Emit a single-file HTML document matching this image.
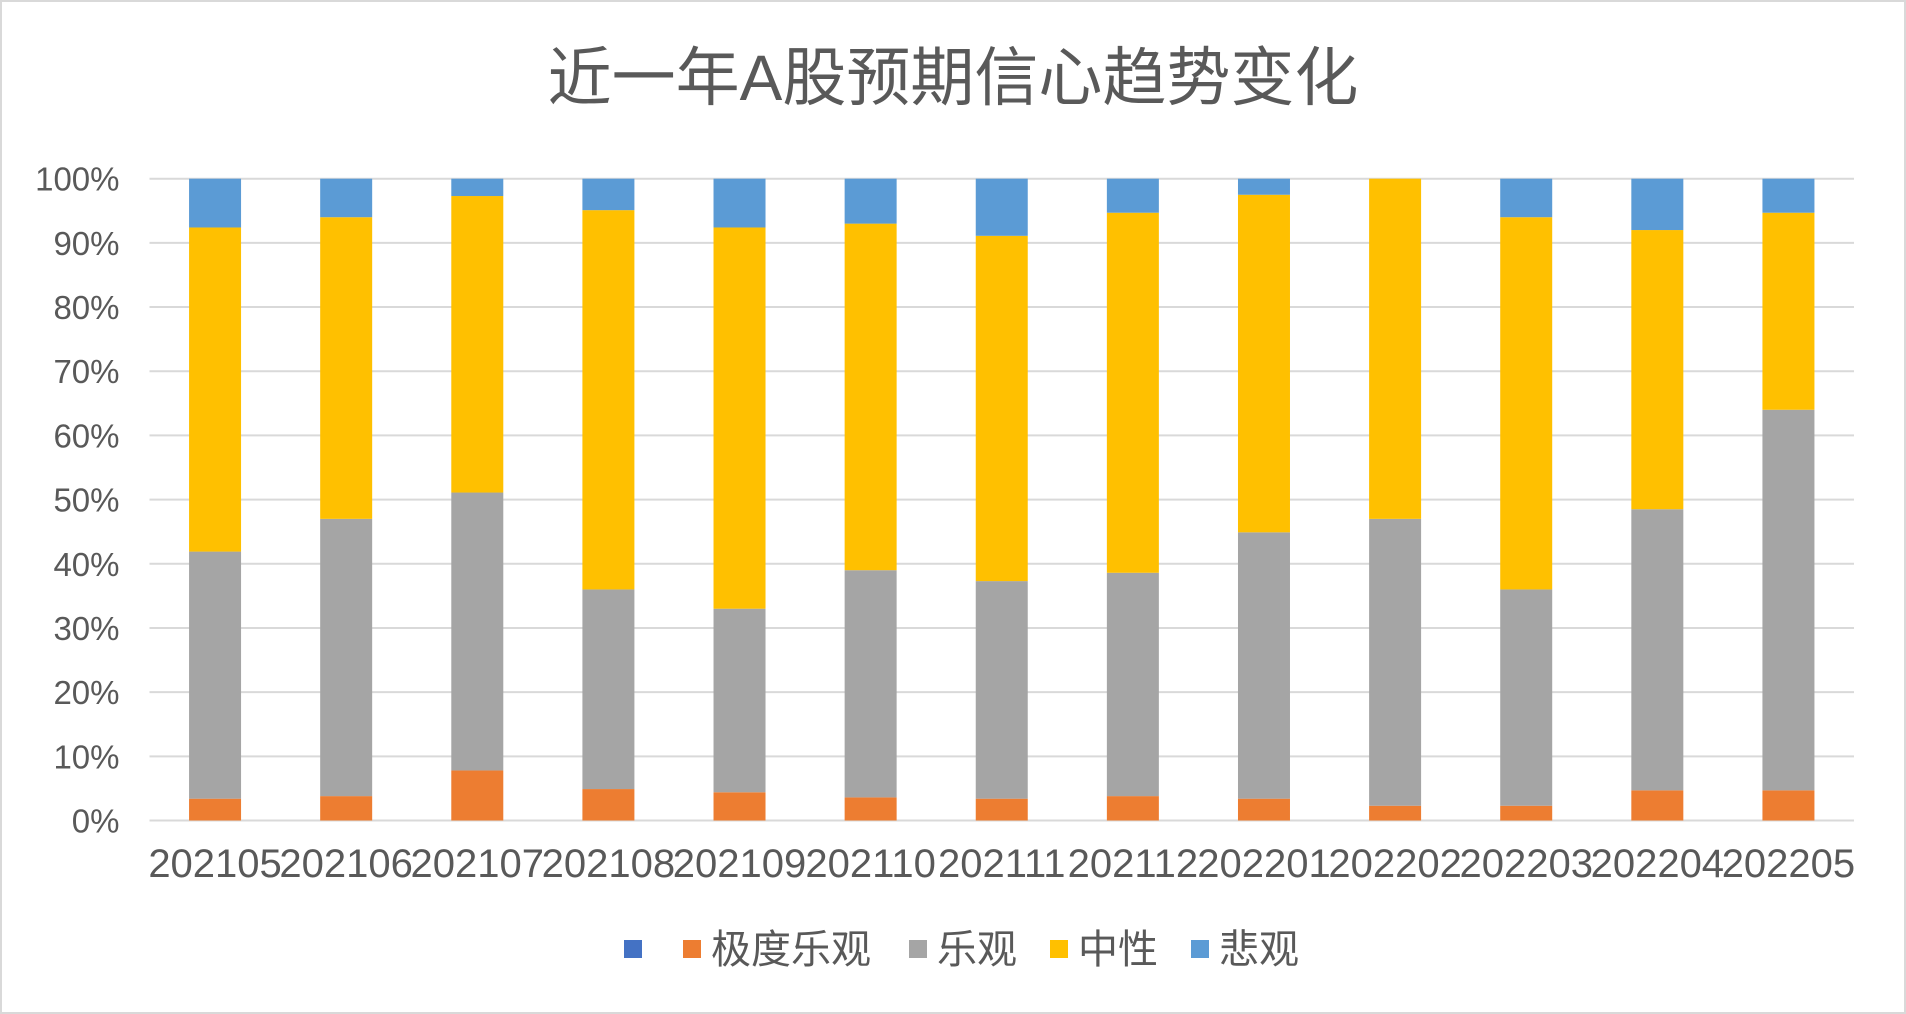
<!DOCTYPE html>
<html><head><meta charset="utf-8"><style>
html,body{margin:0;padding:0;background:#fff;}
svg{display:block;font-family:"Liberation Sans","Noto Sans CJK SC",sans-serif;}
</style></head><body>
<svg id="chart" width="1906" height="1014">
<rect x="1" y="1" width="1904" height="1012" fill="#fff" stroke="#d9d9d9" stroke-width="2"/>
<text x="953" y="100" text-anchor="middle" font-size="64" fill="#595959">近一年A股预期信心趋势变化</text>
<g id="grid"></g><g id="bars"></g><g id="yticks"></g><g id="xticks"></g><g id="legend"></g>
</svg>
<script>
const categories=["202105","202106","202107","202108","202109","202110","202111","202112","202201","202202","202203","202204","202205"];
const extremeOptimistic=[3.4,3.8,7.8,4.9,4.4,3.6,3.4,3.8,3.4,2.3,2.3,4.7,4.7];
const optimistic=[38.5,43.2,43.3,31.1,28.6,35.4,33.9,34.8,41.5,44.7,33.7,43.8,59.3];
const neutral=[50.5,47,46.2,59.1,59.4,54,53.8,56.1,52.6,53,58,43.5,30.7];
const pessimistic=[7.6,6,2.7,4.9,7.6,7,8.9,5.3,2.5,0,6,8,5.3];
const yTicks=[0,10,20,30,40,50,60,70,80,90,100];
const NS="http://www.w3.org/2000/svg";
const L=149.5,R=1854,T=178.7,B=820.5;
const y=v=>B-(v/100)*(B-T);
const bw=(R-L)/categories.length;
const x=i=>L+bw*(i+0.5);
function mk(tag,attrs,parent){const e=document.createElementNS(NS,tag);for(const k in attrs)e.setAttribute(k,attrs[k]);parent.appendChild(e);return e;}
const grid=document.getElementById('grid'),bars=document.getElementById('bars'),yt=document.getElementById('yticks'),xt=document.getElementById('xticks'),lg=document.getElementById('legend');
yTicks.forEach(t=>{
 const l=mk('line',{x1:L,x2:R,y1:y(t),y2:y(t),stroke:'#d9d9d9','stroke-width':2},grid);
 
 
 const tx=mk('text',{x:L-30,y:y(t)+12,'text-anchor':'end','font-size':33,fill:'#595959'},yt);
 tx.textContent=t+'%';
 
 
});
const series=[[extremeOptimistic,'#ED7D31','extreme-optimistic'],[optimistic,'#A5A5A5','optimistic'],[neutral,'#FFC000','neutral'],[pessimistic,'#5B9BD5','pessimistic']];
const w=52;
categories.forEach((c,i)=>{
 let acc=0;
 series.forEach(s=>{
  const v=s[0][i];
  const r=mk('rect',{x:x(i)-w/2,y:y(acc+v),width:w,height:y(acc)-y(acc+v),fill:s[1]},bars);
  
  
  acc+=v;
 });
 const tx=mk('text',{x:x(i),y:877,'text-anchor':'middle','font-size':40,fill:'#595959'},xt);
 tx.textContent=c;
 
 
});
const legendItems=[['','#4472C4',624],['极度乐观','#ED7D31',683],['乐观','#A5A5A5',909],['中性','#FFC000',1050],['悲观','#5B9BD5',1191]];
legendItems.forEach(it=>{
 const g=mk('g',{},lg);
 
 
 mk('rect',{x:it[2],y:940,width:18,height:18,fill:it[1]},g);
 const t=mk('text',{x:it[2]+28,y:963,'font-size':40,fill:'#595959'},g);
 t.textContent=it[0];
});
</script>
</body></html>
